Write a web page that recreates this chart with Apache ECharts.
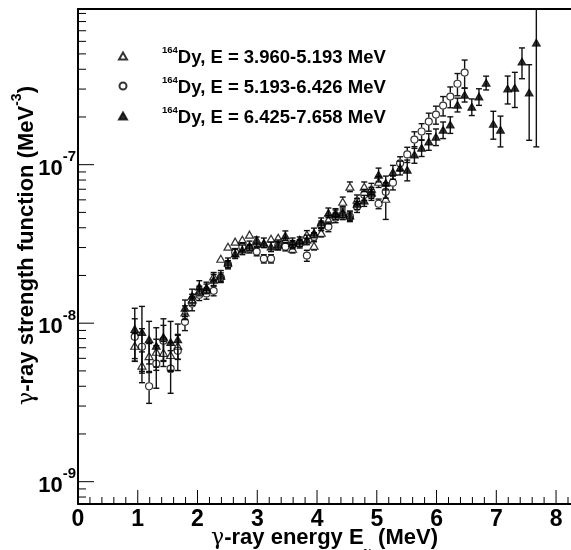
<!DOCTYPE html>
<html><head><meta charset="utf-8">
<script src="https://cdn.jsdelivr.net/npm/echarts@6/dist/echarts.min.js"></script>
<style>html,body{margin:0;padding:0;background:#fff}#c{width:571px;height:550px}</style>
</head><body><div id="c"></div>
<script>
// ---- data ----
const energies = [0.95,1.07,1.19,1.31,1.43,1.55,1.67,1.79,1.91,2.03,2.15,2.27,2.39,2.51,2.63,2.75,2.87,2.99,3.11,3.23,3.35,3.47,3.59,3.71,3.83,3.95,4.07,4.19,4.31,4.43,4.55,4.67,4.79,4.91,5.03,5.15,5.27,5.39,5.51,5.63,5.75,5.87,5.99,6.11,6.23,6.35,6.47,6.59,6.71,6.83,6.95,7.07,7.19,7.31,7.43,7.55,7.67];

const seriesNames = ['Dy, E = 3.960-5.193 MeV','Dy, E = 5.193-6.426 MeV','Dy, E = 6.425-7.658 MeV'];
const massNumber = '164';

// open triangles
const fLow = [7.2e-9,5.4e-9,6.2e-9,6.6e-9,6.5e-9,6.3e-9,7.2e-9,1.17e-8,1.41e-8,1.60e-8,1.65e-8,1.97e-8,2.55e-8,3.04e-8,3.27e-8,3.36e-8,3.62e-8,3.36e-8,3.17e-8,3.41e-8,3.46e-8,3.36e-8,2.95e-8,3.36e-8,3.62e-8,3.08e-8,3.72e-8,4.50e-8,4.98e-8,5.84e-8,7.27e-8,6.02e-8,7.27e-8,7.06e-8,7.81e-8,6.10e-8];
const errLow = [0.2,0.22,0.2,0.2,0.18,0.2,0.18,0.1,0.08,0.07,0.07,0.06,0.05,0.05,0.05,0.05,0.05,0.05,0.05,0.05,0.05,0.05,0.06,0.05,0.06,0.06,0.06,0.06,0.06,0.07,0.07,0.07,0.07,0.08,0.08,0.26];

// open circles
const fMid = [8.2e-9,7.1e-9,4.0e-9,5.55e-9,7.75e-9,5.16e-9,6.7e-9,1.02e-8,1.33e-8,1.51e-8,1.54e-8,1.60e-8,1.94e-8,2.34e-8,2.79e-8,3.04e-8,2.95e-8,2.83e-8,2.55e-8,2.55e-8,3.08e-8,3.04e-8,3.13e-8,3.17e-8,2.67e-8,3.51e-8,4.12e-8,4.06e-8,4.63e-8,4.84e-8,4.70e-8,5.43e-8,6.47e-8,6.47e-8,5.67e-8,6.75e-8,7.70e-8,1.02e-7,1.16e-7,1.44e-7,1.62e-7,1.87e-7,2.07e-7,2.36e-7,2.69e-7,3.24e-7,3.81e-7];
const errMid = [0.3,0.3,0.22,0.3,0.25,0.3,0.25,0.12,0.1,0.08,0.08,0.07,0.07,0.06,0.06,0.06,0.06,0.06,0.06,0.06,0.06,0.06,0.06,0.06,0.08,0.06,0.07,0.07,0.07,0.07,0.07,0.08,0.08,0.08,0.07,0.09,0.1,0.1,0.11,0.12,0.12,0.13,0.13,0.14,0.15,0.16,0.2];

// filled triangles
const fHigh = [9.2e-9,8.8e-9,7.9e-9,7.2e-9,8.2e-9,7.6e-9,7.9e-9,1.25e-8,1.49e-8,1.70e-8,1.68e-8,1.88e-8,1.99e-8,2.41e-8,2.75e-8,2.91e-8,3.08e-8,3.27e-8,3.22e-8,3.04e-8,3.13e-8,3.57e-8,3.22e-8,3.27e-8,3.36e-8,3.72e-8,4.31e-8,4.98e-8,4.84e-8,4.98e-8,4.77e-8,5.67e-8,5.93e-8,6.66e-8,8.65e-8,7.70e-8,9.0e-8,9.57e-8,9.30e-8,1.16e-7,1.28e-7,1.40e-7,1.50e-7,1.66e-7,1.79e-7,2.39e-7,2.76e-7,2.32e-7,2.69e-7,3.29e-7,1.81e-7,1.66e-7,3.02e-7,3.06e-7,4.47e-7,2.85e-7,5.89e-7];
const errHigh = [0.35,0.45,0.3,0.3,0.3,0.35,0.25,0.12,0.1,0.09,0.08,0.08,0.08,0.07,0.07,0.07,0.07,0.07,0.07,0.07,0.07,0.07,0.07,0.07,0.07,0.07,0.07,0.07,0.07,0.07,0.07,0.08,0.08,0.08,0.1,0.1,0.1,0.1,0.15,0.12,0.12,0.12,0.12,0.12,0.12,0.1,0.1,0.12,0.12,0.1,0.2,0.22,0.2,0.25,0.22,0.5,0.78];

// axes
const xMin = 0, xMax = 8.25;
const yMin = 7.23e-10, yMax = 9.6e-7;
const xMajorTicks = [0,1,2,3,4,5,6,7,8];
const xMinorTicks = [0.2,0.4,0.6,0.8,1.2,1.4,1.6,1.8,2.2,2.4,2.6,2.8,3.2,3.4,3.6,3.8,4.2,4.4,4.6,4.8,5.2,5.4,5.6,5.8,6.2,6.4,6.6,6.8,7.2,7.4,7.6,7.8,8.2];
const yMajorTicks = [1e-9,1e-8,1e-7];
const yMinorTicks = [8e-10,9e-10,2e-9,3e-9,4e-9,5e-9,6e-9,7e-9,8e-9,9e-9,2e-8,3e-8,4e-8,5e-8,6e-8,7e-8,8e-8,9e-8,2e-7,3e-7,4e-7,5e-7,6e-7,7e-7,8e-7,9e-7];
const xTitle = ['γ','-ray energy E','γ',' (MeV)'];
const yTitle = ['γ','-ray strength function (MeV','-3',')'];

// ---- rendering ----
const FONT = '"Liberation Sans", Arial, Helvetica, sans-serif';
const chart = echarts.init(document.getElementById('c'), null, {renderer:'canvas'});

function errSeries(vals, errs, gap) {
  return {
    type: 'custom', clip: true, silent: true, z: 3,
    data: vals.map((v, i) => [energies[i], v, v * (1 - errs[i]), v * (1 + errs[i])]),
    renderItem(params, api) {
      const x = api.value(0);
      const c = api.coord([x, api.value(1)]);
      const lo = api.coord([x, api.value(2)]);
      const hi = api.coord([x, api.value(3)]);
      const st = {stroke: '#111', lineWidth: 1.4};
      const ch = [];
      if (c[1] - gap > hi[1]) ch.push({type:'line', shape:{x1:c[0], y1:hi[1], x2:c[0], y2:c[1]-gap}, style:st});
      if (lo[1] > c[1] + gap) ch.push({type:'line', shape:{x1:c[0], y1:c[1]+gap, x2:c[0], y2:lo[1]}, style:st});
      if (hi[1] < c[1] - gap) ch.push({type:'line', shape:{x1:c[0]-3, y1:hi[1], x2:c[0]+3, y2:hi[1]}, style:st});
      if (lo[1] > c[1] + gap) ch.push({type:'line', shape:{x1:c[0]-3, y1:lo[1], x2:c[0]+3, y2:lo[1]}, style:st});
      return {type:'group', children: ch};
    }
  };
}

function tickSeries(list, isX, len) {
  return {
    type: 'custom', clip: false, silent: true, z: 5,
    data: list.map(v => isX ? [v, yMin] : [xMin, v]),
    renderItem(params, api) {
      const p = api.coord([api.value(0), api.value(1)]);
      const shape = isX ? {x1:p[0], y1:p[1], x2:p[0], y2:p[1]-len} : {x1:p[0], y1:p[1], x2:p[0]+len, y2:p[1]};
      return {type:'line', shape, style:{stroke:'#000', lineWidth:1}};
    }
  };
}

const markerStyles = [
  {symbol:'triangle', symbolSize:[8,7], itemStyle:{color:'rgba(255,255,255,0)', borderColor:'#000', borderWidth:1.2}},
  {symbol:'circle', symbolSize:7, itemStyle:{color:'rgba(255,255,255,0)', borderColor:'#000', borderWidth:1.2}},
  {symbol:'triangle', symbolSize:[8,7], itemStyle:{color:'#000', borderColor:'#000', borderWidth:1}}
];
const allVals = [fLow, fMid, fHigh];
const allErrs = [errLow, errMid, errHigh];

const series = [];
allVals.forEach((vals, s) => {
  series.push(errSeries(vals, allErrs[s], s === 2 ? 0 : 4));
});
allVals.forEach((vals, s) => {
  series.push(Object.assign({
    type: 'scatter', name: seriesNames[s], z: 4, silent: true,
    data: vals.map((v, i) => [energies[i], v])
  }, markerStyles[s]));
});
series.push(tickSeries(xMajorTicks, true, 14));
series.push(tickSeries(xMinorTicks, true, 7));
series.push(tickSeries(yMajorTicks, false, 16));
series.push(tickSeries(yMinorTicks, false, 8));

const option = {
  animation: false,
  backgroundColor: '#fff',
  grid: {left: 78, top: 9, width: 493, height: 495, containLabel: false, outerBoundsMode: 'none'},
  legend: {
    data: seriesNames, orient: 'vertical', left: 113, top: 40,
    itemWidth: 8, itemHeight: 7, itemGap: 8,
    formatter: n => '{sp|}{sup|' + massNumber + '}{t|' + n + '}',
    textStyle: {
      rich: {
        sp: {width: 30},
        sup: {fontSize: 9.5, fontWeight: 'bold', fontFamily: FONT, color: '#000', verticalAlign: 'top'},
        t: {fontSize: 18.5, fontWeight: 'bold', fontFamily: FONT, color: '#000', lineHeight: 22, verticalAlign: 'bottom'}
      }
    }
  },
  xAxis: [{
    type: 'value', min: xMin, max: xMax, interval: 1,
    axisLine: {show: true, onZero: false, lineStyle: {color: '#000', width: 2}},
    axisTick: {show: false}, splitLine: {show: false},
    axisLabel: {margin: 4, showMaxLabel: false, color: '#000', fontSize: 23, fontWeight: 'bold', fontFamily: FONT,
      formatter: v => (xMajorTicks.indexOf(v) >= 0 ? String(v) : '')},
    name: '{g|' + xTitle[0] + '}{b|' + xTitle[1] + '}{sub|' + xTitle[2] + '}{b|' + xTitle[3] + '}',
    nameLocation: 'middle', nameGap: 23, nameMoveOverlap: false,
    nameTextStyle: {rich: {
      g: {fontSize: 22, fontFamily: 'DejaVu Serif, serif', color: '#000', verticalAlign: 'top', lineHeight: 24},
      b: {fontSize: 22, fontWeight: 'bold', fontFamily: FONT, color: '#000', verticalAlign: 'top', lineHeight: 24},
      sub: {fontSize: 14, fontFamily: 'DejaVu Serif, serif', color: '#000', padding: [19, 0, 0, 0], verticalAlign: 'top'}
    }}
  }, {
    type: 'value', position: 'top', min: xMin, max: xMax,
    axisLine: {show: true, lineStyle: {color: '#000', width: 2}},
    axisTick: {show: false}, axisLabel: {show: false}, splitLine: {show: false}
  }],
  yAxis: {
    type: 'log', logBase: 10, min: yMin, max: yMax,
    axisLine: {show: true, lineStyle: {color: '#000', width: 2}},
    axisTick: {show: false}, splitLine: {show: false}, minorTick: {show: false},
    axisLabel: {margin: 2, showMinLabel: false, showMaxLabel: false,
      formatter: v => {
        const e = Math.round(Math.log10(v));
        if (Math.abs(Math.log10(v) - e) > 1e-6) return '';
        return '{b|10}{s|' + e + '}';
      },
      rich: {
        b: {fontSize: 22, fontWeight: 'bold', fontFamily: FONT, color: '#000', verticalAlign: 'bottom', lineHeight: 30},
        s: {fontSize: 15, fontWeight: 'bold', fontFamily: FONT, color: '#000', verticalAlign: 'top'}
      }
    },
    name: '{g|' + yTitle[0] + '}{b|' + yTitle[1] + '}{s|' + yTitle[2] + '}{b|' + yTitle[3] + '}',
    nameLocation: 'middle', nameRotate: 90, nameGap: 40, nameMoveOverlap: false,
    nameTextStyle: {padding: [0, 0, 0, 22], rich: {
      g: {fontSize: 22, fontFamily: 'DejaVu Serif, serif', color: '#000', verticalAlign: 'bottom', lineHeight: 28},
      b: {fontSize: 22, fontWeight: 'bold', fontFamily: FONT, color: '#000', verticalAlign: 'bottom', lineHeight: 28},
      s: {fontSize: 14, fontWeight: 'bold', fontFamily: FONT, color: '#000', verticalAlign: 'top'}
    }}
  },
  series
};
chart.setOption(option);
</script></body></html>
